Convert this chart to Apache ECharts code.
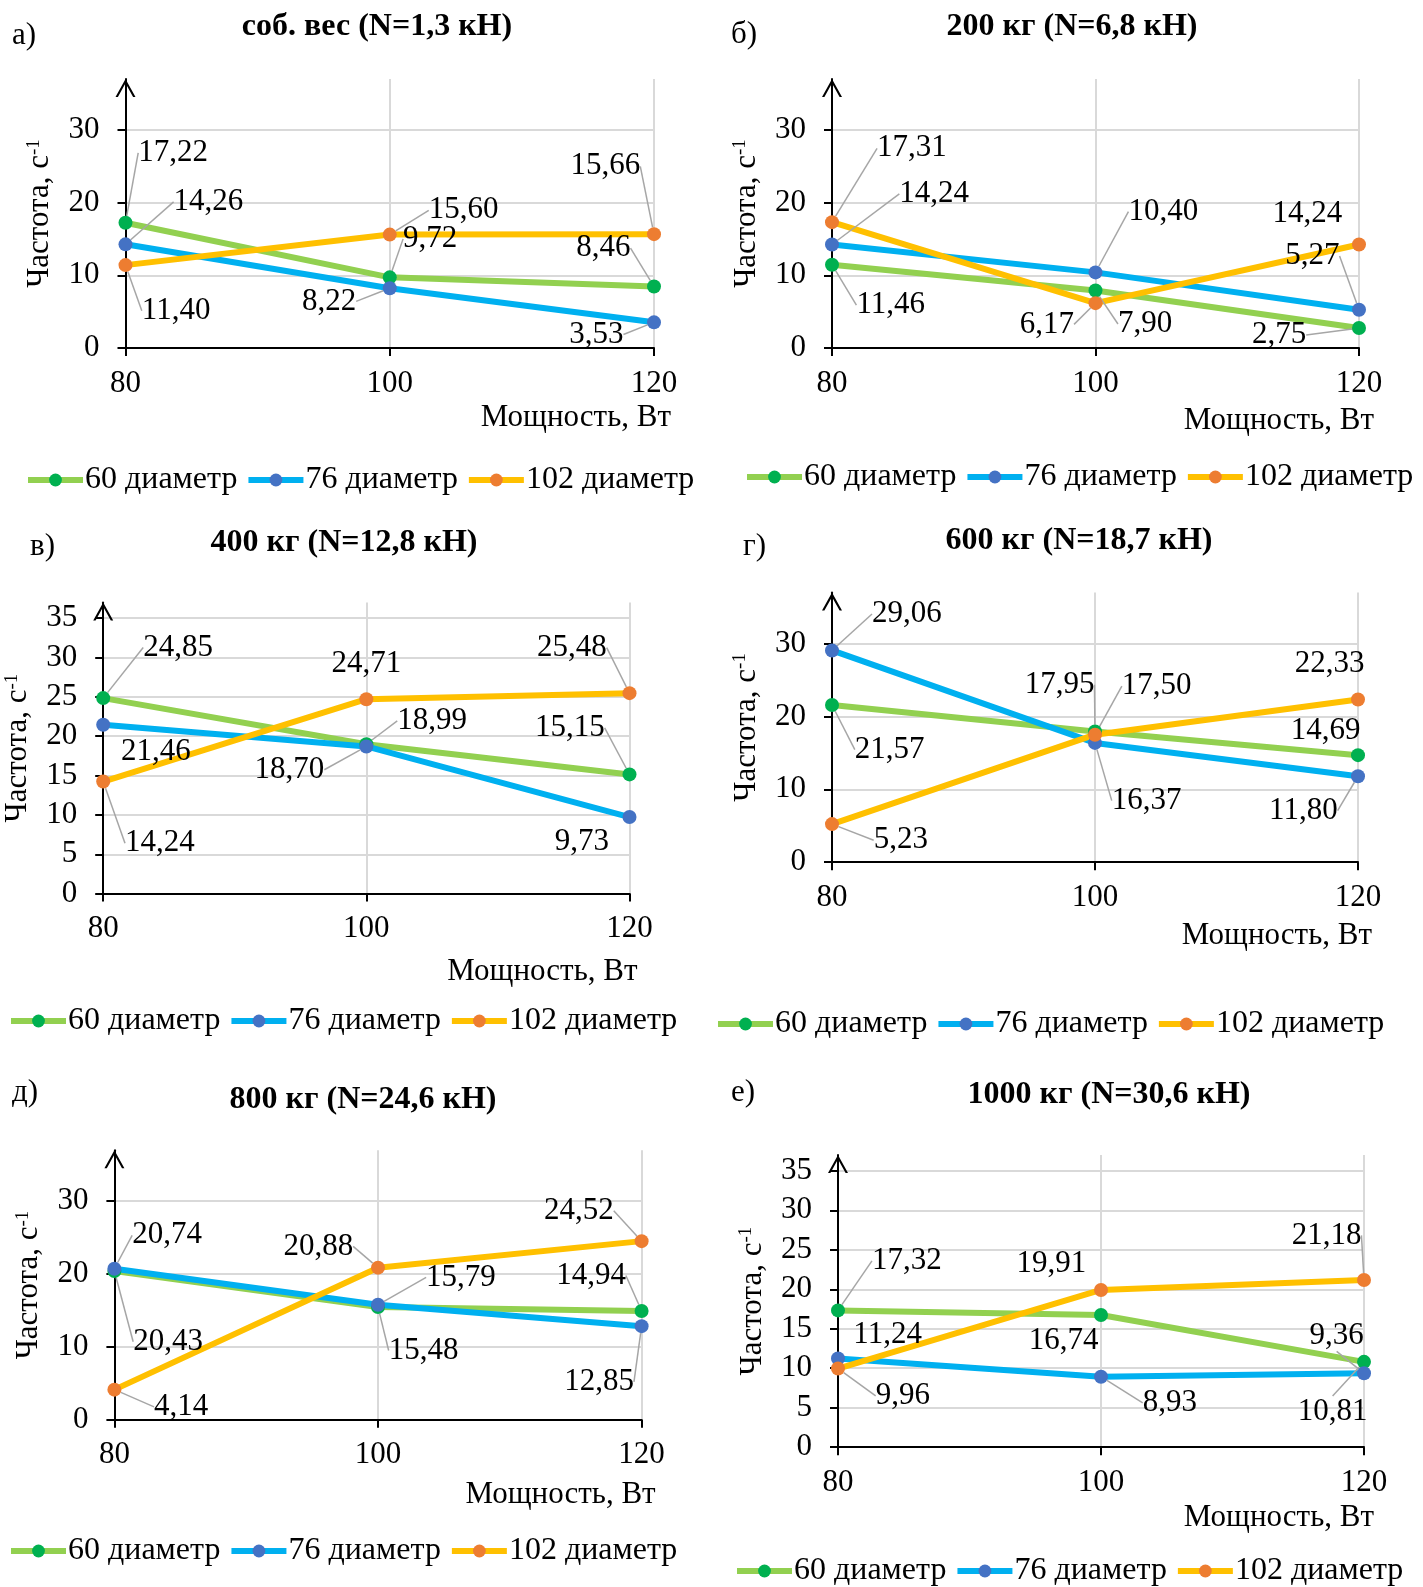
<!DOCTYPE html>
<html><head><meta charset="utf-8">
<script src="https://cdn.jsdelivr.net/npm/echarts@6/dist/echarts.min.js"></script>
<style>html,body{margin:0;padding:0;background:#fff}#c{width:1423px;height:1587px}</style>
</head><body><div id="c"></div>
<script>
// ---------- data ----------
const powers = [80, 100, 120];
const seriesNames = ['60 диаметр', '76 диаметр', '102 диаметр'];
const panelLetters = ['а)', 'б)', 'в)', 'г)', 'д)', 'е)'];
const panelTitles = ['соб. вес (N=1,3 кН)', '200 кг (N=6,8 кН)', '400 кг (N=12,8 кН)',
                     '600 кг (N=18,7 кН)', '800 кг (N=24,6 кН)', '1000 кг (N=30,6 кН)'];
const yTickSteps = [10, 10, 5, 10, 10, 5];
const yMax = 37;

const a60 = [17.22, 9.72, 8.46];
const a76 = [14.26, 8.22, 3.53];
const a102 = [11.40, 15.60, 15.66];

const b60 = [11.46, 7.90, 2.75];
const b76 = [14.24, 10.40, 5.27];
const b102 = [17.31, 6.17, 14.24];

const c60 = [24.85, 18.99, 15.15];
const c76 = [21.46, 18.70, 9.73];
const c102 = [14.24, 24.71, 25.48];

const d60 = [21.57, 17.95, 14.69];
const d76 = [29.06, 16.37, 11.80];
const d102 = [5.23, 17.50, 22.33];

const e60 = [20.43, 15.48, 14.94];
const e76 = [20.74, 15.79, 12.85];
const e102 = [4.14, 20.88, 24.52];

const f60 = [17.32, 16.74, 10.81];
const f76 = [11.24, 8.93, 9.36];
const f102 = [9.96, 19.91, 21.18];

// ---------- label placement (offsets from point, px) ----------
const offA = [[[47,-69],[40,-38],[-50,-38]], [[82,-42],[-60,13],[-57,12]], [[50,45],[73,-24],[-48,-67]]];
const offB = [[[58,40],[49,33],[-79,7]], [[101,-50],[67,-60],[-46,-53]], [[79,-73],[-48,21],[-51,-30]]];
const offC = [[[74,-50],[65,-23],[-59,-46]], [[52,27],[-76,23],[-47,25]], [[56,61],[0,-35],[-57,-45]]];
const offD = [[[57,44],[-35,-46],[-32,-24]], [[74,-36],[51,57],[-54,34]], [[68,16],[61,-48],[-28,-35]]];
const offE = [[[53,70],[45,43],[-50,-35]], [[52,-33],[82,-27],[-42,55]], [[66,17],[-59,-21],[-62,-30]]];
const offF = [[[68,-49],[-37,26],[-31,49]], [[49,-23],[68,26],[-27,-37]], [[64,27],[-49,-26],[-37,-44]]];
const leadA = [[1,1,1],[1,1,1],[1,1,1]];
const leadB = [[1,1,1],[1,1,1],[1,1,0]];
const leadC = [[1,1,1],[0,1,0],[1,0,1]];
const leadD = [[1,1,0],[1,1,1],[1,1,0]];
const leadE = [[1,1,1],[1,1,1],[1,1,1]];
const leadF = [[1,0,1],[0,1,1],[1,0,1]];

// ---------- layout ----------
const S = 1.012;
const FONT = "'Liberation Serif','Times New Roman',serif";
const FS = 31;
const lineColors = ['#92D050', '#00B0F0', '#FFC000'];
const markerColors = ['#00B050', '#4472C4', '#ED7D31'];

const panels = [
  {vals:[a60,a76,a102], off:offA, lead:leadA, grid:{left:125.5,right:769,top:79,bottom:1239},
   letter:[12,36], title:[377,27], xName:{gap:17,dy:70}, legend:{left:25,y:478}},
  {vals:[b60,b76,b102], off:offB, lead:leadB, grid:{left:832,right:64,top:79,bottom:1239},
   letter:[731,35], title:[1072,27], xName:{gap:15,dy:73}, legend:{left:744,y:475}},
  {vals:[c60,c76,c102], off:offC, lead:leadC, grid:{left:103.2,right:793.5,top:602.5,bottom:693.4},
   letter:[30,547], title:[344,543], xName:{gap:8,dy:78}, legend:{left:8,y:1019}},
  {vals:[d60,d76,d102], off:offD, lead:leadD, grid:{left:832,right:65,top:592.6,bottom:724.8},
   letter:[743,547], title:[1079,541], xName:{gap:14,dy:74}, legend:{left:715,y:1022}},
  {vals:[e60,e76,e102], off:offE, lead:leadE, grid:{left:114.4,right:781.4,top:1150.2,bottom:167.2},
   letter:[12,1093], title:[363,1100], xName:{gap:14,dy:75}, legend:{left:8,y:1549}},
  {vals:[f60,f76,f102], off:offF, lead:leadF, grid:{left:838,right:59,top:1155,bottom:139.8},
   letter:[731,1093], title:[1109,1095], xName:{gap:10,dy:71}, legend:{left:734,y:1569}}
];

const X_NAME = 'Мощность, Вт';
const mctx = document.createElement('canvas').getContext('2d');
mctx.font = FS + "px 'Liberation Serif'";
const xNameWidth = mctx.measureText(X_NAME).width;

const ARROW = 'path://M0,18 L10,0 L20,18 L17.6,18 L10,4.3 L2.4,18 Z';

const grids = [], xAxes = [], yAxes = [], series = [], legends = [], graphics = [];
panels.forEach((p, i) => {
  const step = yTickSteps[i];
  const nTicks = Math.floor(yMax / step) + 2;
  const gridColors = [];
  for (let k = 0; k < nTicks; k++) gridColors.push(k === nTicks - 1 ? 'rgba(0,0,0,0)' : '#d9d9d9');
  const tickVals = [];
  for (let v = 0; v <= yMax; v += step) tickVals.push(v);

  grids.push(Object.assign({containLabel:false, outerBoundsMode:'none'}, p.grid));
  xAxes.push({
    gridIndex:i, type:'value', min:80, max:120, interval:20,
    axisLine:{show:true, lineStyle:{color:'#000', width:2}},
    axisTick:{show:true, length:8, lineStyle:{color:'#000', width:2}},
    axisLabel:{color:'#000', fontSize:FS, fontFamily:FONT, margin:20},
    splitLine:{show:true, lineStyle:{color:'#d9d9d9', width:2}},
    name:X_NAME, nameLocation:'end', nameGap:p.xName.gap - xNameWidth, nameMoveOverlap:false,
    nameTextStyle:{color:'#000', fontSize:FS, fontFamily:FONT, align:'left', verticalAlign:'top',
                   lineHeight:FS, padding:[p.xName.dy - FS/2, 0, 0, 0]}
  });
  yAxes.push({
    gridIndex:i, type:'value', min:0, max:yMax, interval:step,
    axisLine:{show:true, lineStyle:{color:'#000', width:2}, symbol:['none', ARROW],
              symbolSize:[20, 18], symbolOffset:[0, -9]},
    axisTick:{show:true, length:8, lineStyle:{color:'#000', width:2}, customValues:tickVals},
    axisLabel:{color:'#000', fontSize:FS, fontFamily:FONT, margin:26,
               customValues:tickVals,
               formatter: v => (Math.abs(v % step) < 1e-9 ? String(v) : '')},
    splitLine:{show:true, lineStyle:{color:gridColors, width:2}},
    name:'Частота, с{sup|-1}', nameLocation:'middle', nameGap:70, nameRotate:90,
    nameTextStyle:{color:'#000', fontSize:FS, fontFamily:FONT, lineHeight:FS,
                   rich:{sup:{fontSize:19, fontFamily:FONT, color:'#000', verticalAlign:'top', lineHeight:FS}}}
  });

  p.vals.forEach((vals, s) => {
    series.push({
      type:'line', name:seriesNames[s], xAxisIndex:i, yAxisIndex:i,
      data: powers.map((x, k) => ({value:[x, vals[k]], labelLine:{show: !!p.lead[s][k]}})),
      symbol:'circle', symbolSize:14,
      lineStyle:{color:lineColors[s], width:6},
      itemStyle:{color:markerColors[s]},
      label:{show:true, position:'inside', color:'#000', fontSize:FS, fontFamily:FONT,
             formatter: prm => prm.value[1].toFixed(2).replace('.', ',')},
      labelLayout: prm => {
        const o = p.off[s][prm.dataIndex];
        return {dx:o[0] * S, dy:o[1] * S};
      },
      labelLine:{show:true, lineStyle:{color:'#a6a6a6', width:1.5}},
      emphasis:{disabled:true},
      animation:false
    });
  });

  legends.push({
    left:p.legend.left, top:p.legend.y - 14, orient:'horizontal', padding:0,
    itemWidth:55, itemHeight:16, itemGap:8,
    lineStyle:{width:6},
    textStyle:{color:'#000', fontSize:32, fontFamily:FONT, padding:[0,0,0,-3]},
    data:seriesNames.slice(), selectedMode:false
  });

  graphics.push({type:'text', x:p.letter[0], y:p.letter[1],
    style:{text:panelLetters[i], fill:'#000', fontSize:FS, fontFamily:FONT,
           align:'left', verticalAlign:'middle'}});
  graphics.push({type:'text', x:p.title[0], y:p.title[1],
    style:{text:panelTitles[i], fill:'#000', fontSize:32, fontWeight:'bold', fontFamily:FONT,
           align:'center', verticalAlign:'middle'}});
});

const chart = echarts.init(document.getElementById('c'), null, {renderer:'canvas'});
chart.setOption({
  backgroundColor:'#fff',
  animation:false,
  grid:grids, xAxis:xAxes, yAxis:yAxes, series:series, legend:legends,
  graphic:graphics
});
</script></body></html>
